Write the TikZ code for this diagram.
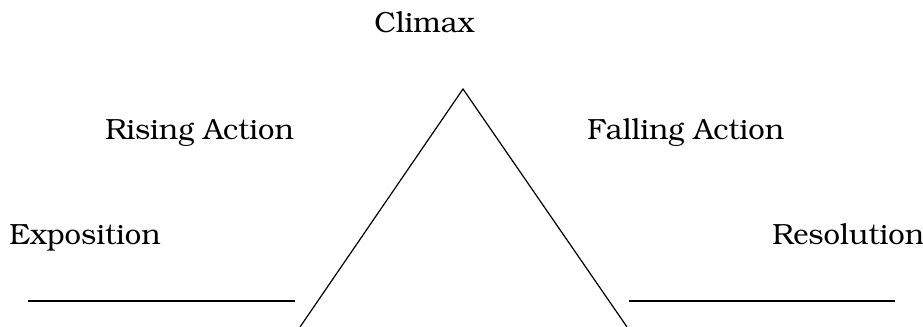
\documentclass[tikz,border=0pt]{standalone}
\usepackage[T1]{fontenc}
\usepackage{bookman}
\begin{document}
\begin{tikzpicture}[x=0.75pt,y=-0.75pt,
  lbl/.style={anchor=base west,inner sep=0pt,font=\fontsize{21.9}{26}\selectfont},
  leg/.style={line width=0.9pt},
  blank/.style={line width=2pt}]
\useasboundingbox (0,0) rectangle (923,327);
\clip (0,0) rectangle (923,327);
\node[lbl] (climax) at (374,33) {Climax};
\node[lbl] (rising) at (105,140) {Rising Action};
\node[lbl] (falling) at (587,140) {Falling Action};
\node[lbl] (expo) at (9,245) {Exposition};
\node[lbl] (reso) at (772,245) {Resolution};
\coordinate (apex) at (463,89);
\coordinate (bl) at (300,327);
\coordinate (br) at (627,327);
\coordinate (l1) at (28,301);
\coordinate (l2) at (295,301);
\coordinate (r1) at (629,301);
\coordinate (r2) at (895,301);
\draw[leg] (bl) -- (apex) -- (br);
\draw[blank] (l1) -- (l2);
\draw[blank] (r1) -- (r2);
\end{tikzpicture}
\end{document}
